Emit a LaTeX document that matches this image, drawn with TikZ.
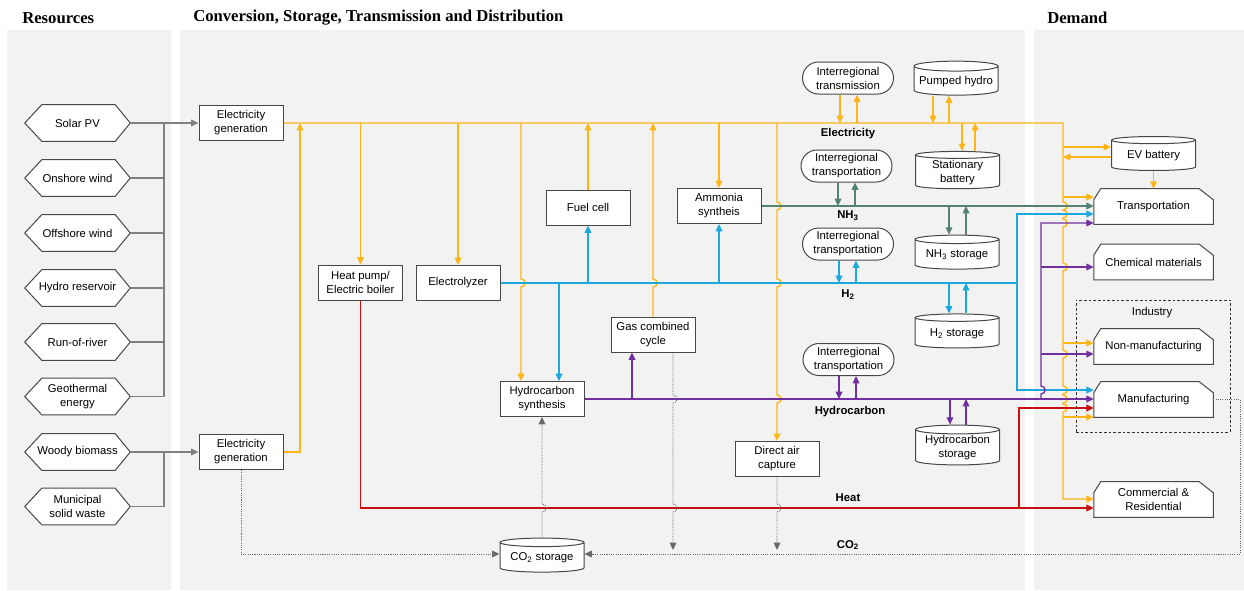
\documentclass[tikz,border=0pt]{standalone}
\usepackage{fontspec}
\setmainfont{Liberation Sans}
\newfontfamily\headfont{Liberation Serif}
\usetikzlibrary{arrows.meta,shapes.geometric,calc,backgrounds}

\definecolor{panel}{RGB}{242,242,242}
\definecolor{elcol}{RGB}{255,181,22}
\definecolor{hycol}{RGB}{28,168,218}
\definecolor{nhcol}{RGB}{84,130,114}
\definecolor{hccol}{RGB}{112,48,160}
\definecolor{heatcol}{RGB}{200,16,16}
\definecolor{rescol}{RGB}{128,128,128}
\definecolor{cocol}{RGB}{105,105,105}

% hop of a vertical line over a horizontal one (going down / going up)
\newcommand{\hopd}[2]{-- (#1,#2-4) .. controls (#1+5.5,#2-4) and (#1+5.5,#2+4) .. (#1,#2+4)}
\newcommand{\hopu}[2]{-- (#1,#2+4) .. controls (#1+5.5,#2+4) and (#1+5.5,#2-4) .. (#1,#2-4)}

\begin{document}
\begin{tikzpicture}[x=0.75pt,y=-0.75pt,
    >={Triangle[length=5.5pt,width=5pt]},
    every node/.style={font=\fontsize{8.5}{10.5}\selectfont},
    box/.style={draw=black!72,line width=0.75pt,fill=white,align=center,inner sep=1pt,
      minimum width=63pt,minimum height=26.25pt},
    pill/.style={box,rounded corners=12pt,minimum width=68.25pt,minimum height=24pt},
    tank/.style={cylinder,shape border rotate=90,aspect=0.13,draw=black!72,line width=0.75pt,
      fill=white,align=center,inner sep=1pt,minimum width=63pt,minimum height=25.5pt},
    src/.style={align=center,inner sep=1pt,minimum width=78.75pt,minimum height=27pt},
    dem/.style={align=center,inner sep=1pt,minimum width=89.25pt,minimum height=26.25pt},
    outline/.style={draw=black!72,line width=0.75pt,fill=white},
    bus/.style={font=\bfseries\fontsize{8.5}{10.5}\selectfont},
    head/.style={anchor=west,inner sep=0pt,font=\headfont\bfseries\fontsize{12.5}{15}\selectfont},
    res/.style={draw=rescol,line width=1pt},
    el/.style={draw=elcol,line width=1pt},
    hy/.style={draw=hycol,line width=1pt},
    nh/.style={draw=nhcol,line width=1pt},
    hc/.style={draw=hccol,line width=1pt},
    heat/.style={draw=heatcol,line width=1pt},
    co2/.style={draw=cocol,line width=0.7pt,dash pattern=on 0.8pt off 0.9pt}]

  \useasboundingbox (0,0) rectangle (1244,590);

  % panels
  \begin{scope}[on background layer]
    \fill[white] (0,0) rectangle (1244,590);
    \fill[panel] (7,30) rectangle (171,590);
    \fill[panel] (180,30) rectangle (1025,590);
    \fill[panel] (1034,30) rectangle (1244,590);
  \end{scope}

  % headings
  \node[head] (hres) at (22,18) {Resources};
  \node[head] (hconv) at (193,18) {Conversion, Storage, Transmission and Distribution};
  \node[head] (hdem) at (1047,18) {Demand};

  % resources
  \node[src] (solar) at (77.5,123) {Solar PV};
  \node[src] (onshore) at (77.5,178) {Onshore wind};
  \node[src] (offshore) at (77.5,233) {Offshore wind};
  \node[src] (hydro) at (77.5,288) {Hydro reservoir};
  \node[src] (ror) at (77.5,342) {Run-of-river};
  \node[src] (geo) at (77.5,396.5) {Geothermal\\energy};
  \node[src] (woody) at (77.5,452) {Woody biomass};
  \node[src] (msw) at (77.5,506.5) {Municipal\\solid waste};

  % conversion
  \node[box] (eg1) at (241,123) {Electricity\\generation};
  \node[box] (eg2) at (241,452) {Electricity\\generation};
  \node[box] (hp) at (360.5,282.5) {Heat pump/\\Electric boiler};
  \node[box] (ely) at (458,283) {Electrolyzer};
  \node[box] (fc) at (588,207.5) {Fuel cell};
  \node[box] (amm) at (719,206) {Ammonia\\syntheis};
  \node[box] (gcc) at (653,334.5) {Gas combined\\cycle};
  \node[box] (hcs) at (542,399) {Hydrocarbon\\synthesis};
  \node[box] (dac) at (777,459) {Direct air\\capture};

  % transmission and storage
  \node[pill] (itrans) at (848,78) {Interregional\\transmission};
  \node[pill] (itr1) at (846.5,166) {Interregional\\transportation};
  \node[pill] (itr2) at (848,244) {Interregional\\transportation};
  \node[pill] (itr3) at (848.5,359.5) {Interregional\\transportation};
  \node[tank] (phydro) at (956,81.5) {Pumped hydro};
  \node[tank] (sbat) at (957.5,172.5) {Stationary\\battery};
  \node[tank] (nh3s) at (957,255) {NH\textsubscript{3} storage};
  \node[tank] (h2s) at (957,333.5) {H\textsubscript{2} storage};
  \node[tank] (hcst) at (957.5,448) {Hydrocarbon\\storage};
  \node[tank] (co2s) at (542,558) {CO\textsubscript{2} storage};

  % bus labels
  \node[bus] (lel) at (848,134) {Electricity};
  \node[bus] (lnh) at (848,216) {NH\textsubscript{3}};
  \node[bus] (lh2) at (848,295) {H\textsubscript{2}};
  \node[bus] (lhc) at (850,412) {Hydrocarbon};
  \node[bus] (lheat) at (848,498) {Heat};
  \node[bus] (lco2) at (848,545) {CO\textsubscript{2}};

  % demand
  \node[tank] (evb) at (1153.5,156) {EV battery};
  \node[dem] (trans) at (1153.5,206.5) {Transportation};
  \node[dem] (chem) at (1153.5,262) {Chemical materials};
  \node[draw=black!80,line width=0.6pt,dash pattern=on 2pt off 1.5pt,
    minimum width=115.5pt,minimum height=99pt] (ind) at (1153,366) {};
  \node (indlbl) at (1152,313) {Industry};
  \node[dem] (nonman) at (1153.5,346.5) {Non-manufacturing};
  \node[dem] (man) at (1153.5,399.5) {Manufacturing};
  \node[dem] (comres) at (1153.5,499.5) {Commercial \&\\Residential};

  % outlines of hexagons and demand shapes
  \begin{scope}[on background layer]
    \foreach \n in {solar,onshore,offshore,hydro,ror,geo,woody,msw}
      \filldraw[outline] ($(\n.north west)+(17,0)$) -- ($(\n.north east)+(-15,0)$) -- (\n.east)
        -- ($(\n.south east)+(-15,0)$) -- ($(\n.south west)+(17,0)$) -- (\n.west) -- cycle;
    \foreach \n in {trans,chem,nonman,man,comres}
      \filldraw[outline] ($(\n.north west)+(0,11)$) -- ($(\n.north west)+(7,0)$)
        -- ($(\n.north east)+(-14,0)$) -- ($(\n.north east)+(0,11)$)
        -- (\n.south east) -- (\n.south west) -- cycle;
  \end{scope}

  \coordinate (ebus) at (1063,123);
  \coordinate (h2end) at (1017,283);
  \coordinate (hcv) at (1041,399);
  \coordinate (heatv) at (1019,508);
  \coordinate (cor) at (1240,554);

  % resources to generation
  \foreach \n in {onshore,offshore,hydro,ror,geo}
    \draw[res] (\n.east) -- (164,0 |- \n.east);
  \draw[res] (164,0 |- geo.east) -- (164,0 |- solar.east);
  \draw[res,->] (solar.east) -- (eg1.west);
  \draw[res,->] (woody.east) -- (eg2.west);
  \draw[res] (msw.east) -| (164,0 |- woody.east);

  % electricity
  \draw[el,->] (eg1.east) -- (ebus) \hopd{1063}{206} \hopd{1063}{214} \hopd{1063}{223}
    \hopd{1063}{267} \hopd{1063}{354} \hopd{1063}{390} \hopd{1063}{399} \hopd{1063}{408}
    -- (1063,499) -- (comres.west |- 0,499);
  \draw[el,->] (eg2.east) -| (300,123);
  \draw[el,->] (hp.north |- eg1.east) -- (hp.north);
  \draw[el,->] (ely.north |- eg1.east) -- (ely.north);
  \draw[el,->] (521,123) \hopd{521}{283} -- (521,0 |- hcs.north);
  \draw[el,->] (fc.north) -- (fc.north |- eg1.east);
  \draw[el,->] (gcc.north) \hopu{653}{283} -- (653,123);
  \draw[el,->] (amm.north |- eg1.east) -- (amm.north);
  \draw[el,->] (777,123) \hopd{777}{206} \hopd{777}{283} \hopd{777}{399} -- (dac.north);
  \draw[el,->] (840,0 |- itrans.south) -- (840,0 |- eg1.east);
  \draw[el,->] (857,0 |- eg1.east) -- (857,0 |- itrans.south);
  \draw[el,->] (933,0 |- phydro.south) -- (933,0 |- eg1.east);
  \draw[el,->] (949,0 |- eg1.east) -- (949,0 |- phydro.south);
  \draw[el,->] (962,0 |- eg1.east) -- (962,0 |- sbat.north);
  \draw[el,->] (975,0 |- sbat.north) -- (975,0 |- eg1.east);
  \draw[el,->] (1063,147) -- (evb.west |- 0,147);
  \draw[el,->] (evb.west |- 0,157) -- (1063,157);
  \draw[el,->] (evb.south) -- (trans.north);
  \draw[el,->] (1063,197) -- (trans.west |- 0,197);
  \draw[el,->] (1063,343) -- (nonman.west |- 0,343);
  \draw[el,->] (1063,417) -- (man.west |- 0,417);

  % ammonia
  \draw[nh,->] (amm.east) -- (trans.west |- amm.east);
  \draw[nh,->] (838,0 |- itr1.south) -- (838,0 |- amm.east);
  \draw[nh,->] (855,0 |- amm.east) -- (855,0 |- itr1.south);
  \draw[nh,->] (949,0 |- amm.east) -- (949,0 |- nh3s.north);
  \draw[nh,->] (966,0 |- nh3s.north) -- (966,0 |- amm.east);

  % hydrogen
  \draw[hy] (ely.east) -- (h2end);
  \draw[hy,->] (h2end) |- (trans.west |- 0,214);
  \draw[hy,->] (h2end) |- (man.west |- 0,390);
  \draw[hy,->] (559,283) -- (559,0 |- hcs.north);
  \draw[hy,->] (fc.south |- ely.east) -- (fc.south);
  \draw[hy,->] (amm.south |- ely.east) -- (amm.south);
  \draw[hy,->] (839,0 |- itr2.south) -- (839,0 |- ely.east);
  \draw[hy,->] (856,0 |- ely.east) -- (856,0 |- itr2.south);
  \draw[hy,->] (949,0 |- ely.east) -- (949,0 |- h2s.north);
  \draw[hy,->] (966,0 |- h2s.north) -- (966,0 |- ely.east);

  % hydrocarbon
  \draw[hc,->] (hcs.east) -- (man.west |- hcs.east);
  \draw[hc,->] (632,399) -- (632,0 |- gcc.south);
  \draw[hc,->] (hcv) \hopu{1041}{390} -- (1041,223) -- (trans.west |- 0,223);
  \draw[hc,->] (1041,267) -- (chem.west |- 0,267);
  \draw[hc,->] (1041,354) -- (nonman.west |- 0,354);
  \draw[hc,->] (839,0 |- itr3.south) -- (839,0 |- hcs.east);
  \draw[hc,->] (856,0 |- hcs.east) -- (856,0 |- itr3.south);
  \draw[hc,->] (950,0 |- hcs.east) -- (950,0 |- hcst.north);
  \draw[hc,->] (966,0 |- hcst.north) -- (966,0 |- hcs.east);

  % heat
  \draw[heat,->] (hp.south) |- (comres.west |- 0,508);
  \draw[heat,->] (heatv) |- (man.west |- 0,408);

  % CO2
  \draw[co2,->] (eg2.south) |- (co2s.west |- cor);
  \draw[co2,->] (man.east) -| (cor) -- (co2s.east |- cor);
  \draw[co2,->] (673,0 |- gcc.south) \hopd{673}{399} \hopd{673}{508} -- (673,550);
  \draw[co2,->] (dac.south) \hopd{777}{508} -- (777,550);
  \draw[co2,->] (co2s.north) \hopu{542}{508} -- (hcs.south);

\end{tikzpicture}
\end{document}
